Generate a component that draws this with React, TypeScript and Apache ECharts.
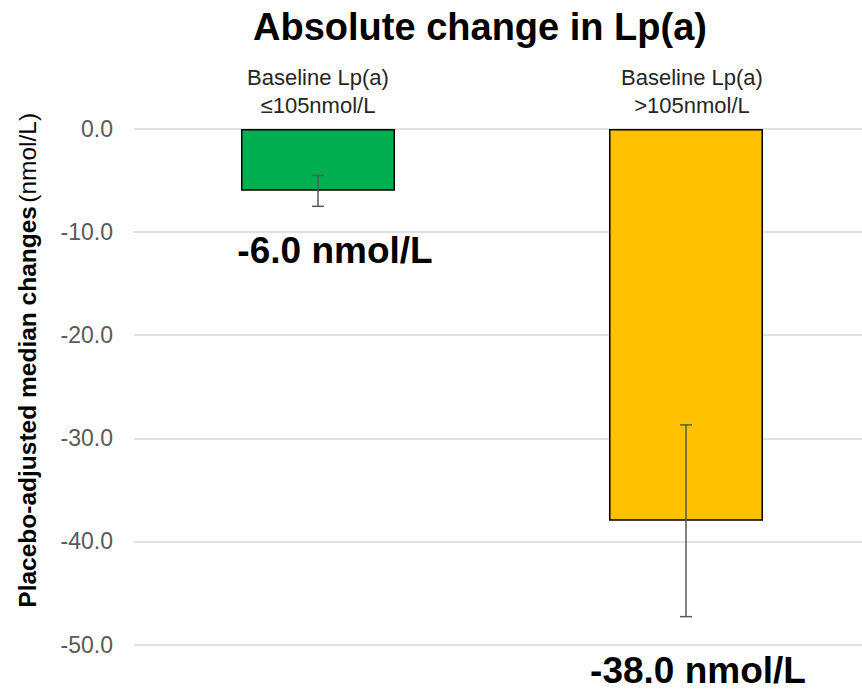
import React, { useEffect, useRef } from "react";
import * as echarts from "echarts";

const categories = ["Baseline Lp(a)\n≤105nmol/L", "Baseline Lp(a)\n>105nmol/L"];
const medianChange = [-6.0, -38.0];
const errorLow = [-7.5, -47.3];
const errorHigh = [-4.5, -28.7];
const valueLabels = ["-6.0 nmol/L", "-38.0 nmol/L"];
const barColors = ["#00B050", "#FFC000"];
const yMin = -50;
const yMax = 0;
const yInterval = 10;

const FONT = "'Liberation Sans', Arial, sans-serif";

export default function App() {
  const ref = useRef<HTMLDivElement>(null);

  useEffect(() => {
    if (!ref.current) return;
    const chart = echarts.init(ref.current, undefined, { renderer: "svg" });
    const labelOffsets = [
      [17, 41],
      [12, 131],
    ];
    const categoryPadding = [
      [0, 0, 0, 0],
      [0, 0, 0, 12],
    ];
    chart.setOption({
      animation: false,
      backgroundColor: "#ffffff",
      textStyle: { fontFamily: FONT },
      title: {
        text: "Absolute change in Lp(a)",
        left: 475,
        top: 3,
        textAlign: "center",
        textStyle: { fontFamily: FONT, fontSize: 38, fontWeight: "bold", color: "#000000" },
      },
      grid: {
        left: 134,
        right: -8,
        top: 129,
        bottom: 45.5,
        containLabel: false,
        outerBoundsMode: "none",
      },
      xAxis: {
        type: "category",
        data: categories.map((c, i) => ({
          value: c,
          textStyle: { padding: categoryPadding[i] },
        })),
        position: "top",
        axisLine: { show: false },
        axisTick: { show: false },
        axisLabel: {
          fontFamily: FONT,
          fontSize: 22,
          lineHeight: 28,
          color: "#262626",
          margin: 10,
        },
        splitLine: { show: false },
      },
      yAxis: {
        type: "value",
        min: yMin,
        max: yMax,
        interval: yInterval,
        axisLine: { show: false },
        axisTick: { show: false },
        axisLabel: {
          fontFamily: FONT,
          fontSize: 23,
          color: "#595959",
          margin: 21,
          formatter: (v: number) => v.toFixed(1),
        },
        splitLine: { lineStyle: { color: "#D9D9D9", width: 1.5 } },
        name: "{b|Placebo-adjusted median changes} {n|(nmol/L)}",
        nameLocation: "middle",
        nameRotate: 90,
        nameGap: 94,
        nameTextStyle: {
          padding: [0, 0, 0, 53],
          rich: {
            b: { fontFamily: FONT, fontSize: 24.5, fontWeight: "bold", color: "#000000" },
            n: { fontFamily: FONT, fontSize: 24.5, color: "#000000" },
          },
        },
      },
      series: [
        {
          type: "bar",
          barWidth: 154,
          data: medianChange.map((v, i) => ({
            value: v,
            itemStyle: { color: barColors[i], borderColor: "#000000", borderWidth: 1.5 },
            label: {
              show: true,
              position: "bottom",
              distance: 0,
              offset: labelOffsets[i],
              formatter: valueLabels[i],
              fontFamily: FONT,
              fontSize: 37,
              fontWeight: "bold",
              color: "#000000",
            },
          })),
        },
        {
          type: "custom",
          z: 10,
          data: categories.map((_, i) => [i, errorLow[i], errorHigh[i]]),
          encode: { x: 0, y: [1, 2] },
          renderItem: (params: any, api: any) => {
            const x = api.value(0);
            const lo = api.coord([x, api.value(1)]);
            const hi = api.coord([x, api.value(2)]);
            const half = 6;
            const style = { stroke: "#595959", lineWidth: 1.5 };
            return {
              type: "group",
              children: [
                { type: "line", shape: { x1: lo[0], y1: lo[1], x2: hi[0], y2: hi[1] }, style },
                { type: "line", shape: { x1: lo[0] - half, y1: lo[1], x2: lo[0] + half, y2: lo[1] }, style },
                { type: "line", shape: { x1: hi[0] - half, y1: hi[1], x2: hi[0] + half, y2: hi[1] }, style },
              ],
            };
          },
        },
      ],
    });
    return () => chart.dispose();
  }, []);

  return (
    <div
      ref={ref}
      style={{ position: "fixed", left: 0, top: 0, width: 862, height: 690 }}
    />
  );
}
